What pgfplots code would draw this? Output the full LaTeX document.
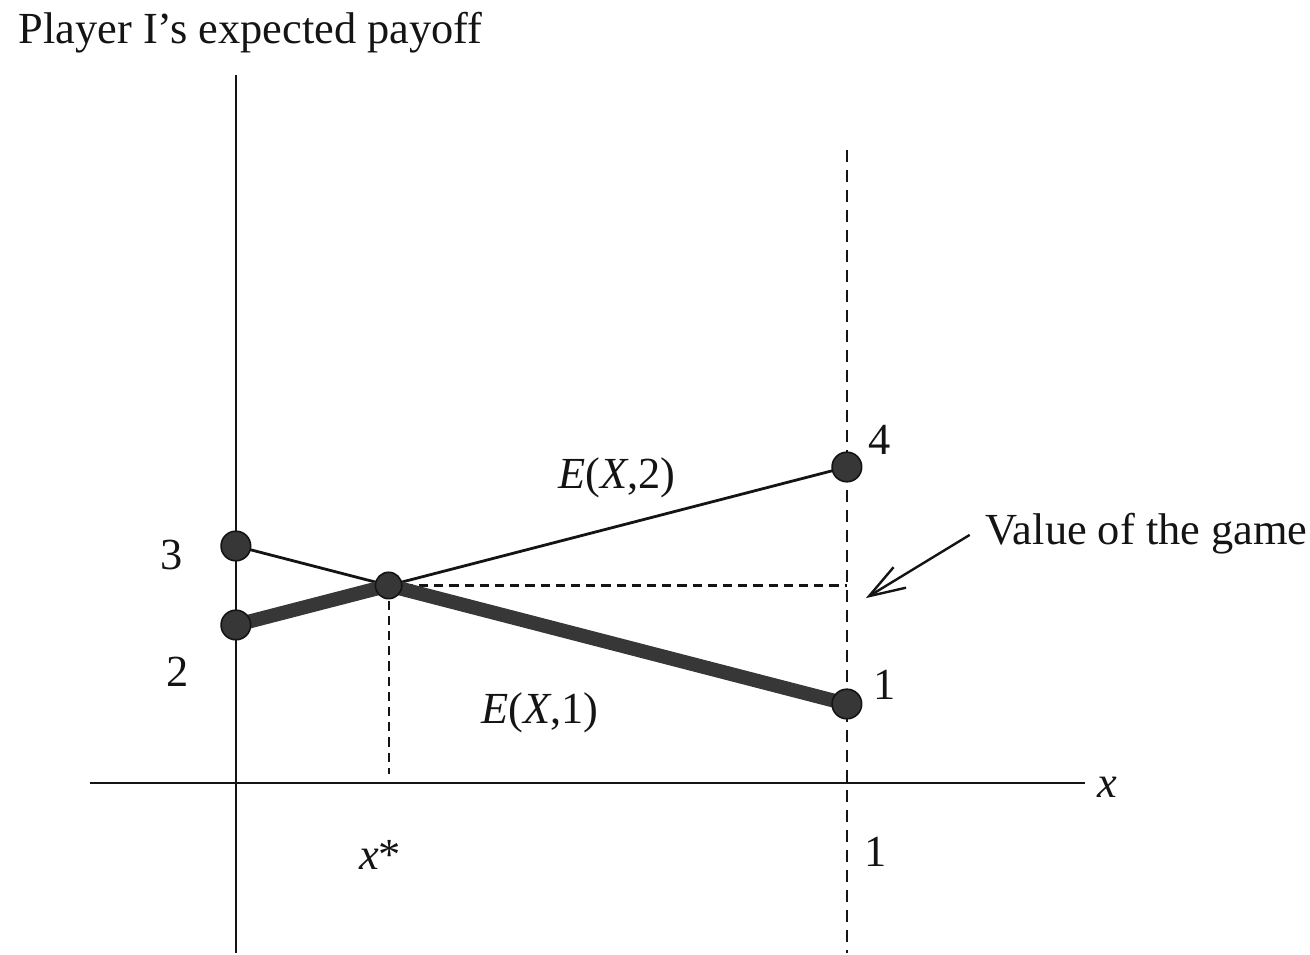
\documentclass[border=0pt]{standalone}
\usepackage{fontspec}
\setmainfont{Liberation Serif}
\usepackage{pgfplots}
\pgfplotsset{compat=1.18}
\usetikzlibrary{arrows.meta}
\definecolor{ink}{RGB}{20,20,20}
\definecolor{dotgray}{RGB}{55,55,55}

\begin{document}
\begin{tikzpicture}[font=\fontsize{11.1}{13}\selectfont]
\begin{axis}[
  scale only axis, width=327.5pt, height=238.25pt,
  xmin=-0.386, xmax=1.758, ymin=-2.152, ymax=9.911,
  hide axis, clip=false,
]
% frame of the picture
\path (axis cs:-0.386,-2.152) rectangle (axis cs:1.758,9.911);
% axes
\addplot[ink, line width=0.6pt] coordinates {(0,8.96) (0,-2.152)};
\addplot[ink, line width=0.6pt] coordinates {(-0.239,0) (1.39,0)};
\addplot[ink, line width=0.6pt, dash pattern=on 3pt off 2pt] coordinates {(1,8.01) (1,-2.152)};
% value of the game guides
\addplot[ink, line width=0.55pt, dash pattern=on 2.3pt off 1.5pt] coordinates {(0.25,2.5) (1,2.5)};
\addplot[ink, line width=0.55pt, dash pattern=on 2.3pt off 1.5pt] coordinates {(0.25,2.5) (0.25,0.12)};
% E(X,1) and E(X,2)
\addplot[ink, line width=0.7pt] coordinates {(0,3) (0.25,2.5)};
\addplot[ink, line width=0.7pt] coordinates {(0.25,2.5) (1,4)};
% lower envelope
\addplot[dotgray, line width=3.5pt] coordinates {(0,2) (0.25,2.5) (1,1)};
% end points and intersection
\addplot[only marks, mark=*, mark size=3.7pt, mark options={fill=dotgray, draw=ink, line width=0.4pt}]
  coordinates {(0,3) (0,2) (1,4) (1,1)};
\addplot[only marks, mark=*, mark size=3.3pt, mark options={fill=dotgray, draw=ink, line width=0.4pt}]
  coordinates {(0.25,2.5)};
% labels
\node[anchor=base west, inner sep=0pt, text=ink] at (axis cs:-0.357,9.36) {Player I’s expected payoff};
\node[text=ink] at (axis cs:-0.105,2.89) {3};
\node[text=ink] at (axis cs:-0.095,1.41) {2};
\node[text=ink] at (axis cs:1.054,4.34) {4};
\node[text=ink] at (axis cs:1.062,1.24) {1};
\node[text=ink] at (axis cs:1.047,-0.87) {1};
\node[text=ink] at (axis cs:0.236,-0.91) {\textit{x}*};
\node[text=ink] at (axis cs:1.427,-0.05) {\textit{x}};
\node[text=ink] at (axis cs:0.624,3.86) {\textit{E}(\textit{X},2)};
\node[text=ink] at (axis cs:0.4975,0.886) {\textit{E}(\textit{X},1)};
\node[anchor=west, inner sep=0pt, text=ink] at (axis cs:1.226,3.16) {Value of the game};
\draw[ink, line width=0.6pt, -{Straight Barb[length=9pt, width=6pt, line width=0.6pt]}]
  (axis cs:1.201,3.14) -- (axis cs:1.031,2.34);
\end{axis}
\end{tikzpicture}
\end{document}
